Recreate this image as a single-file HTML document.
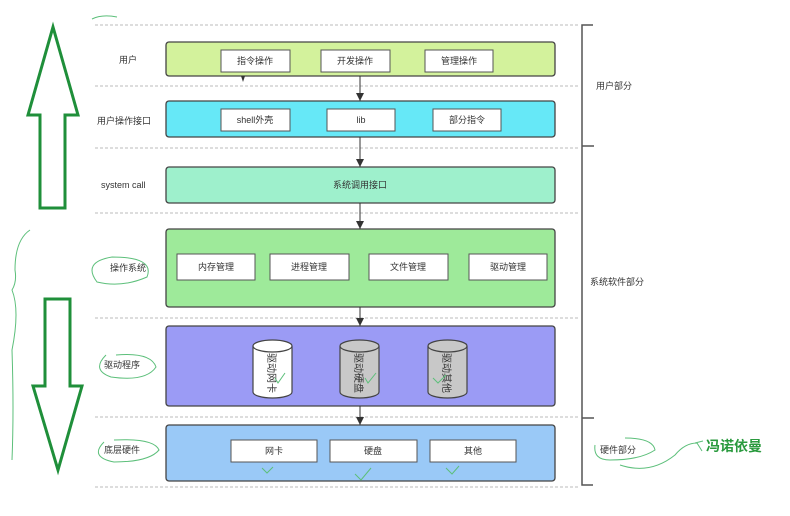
<!DOCTYPE html>
<html><head><meta charset="utf-8"><style>
body{margin:0;background:#fff;}
svg text{font-family:"Liberation Sans","Noto Sans CJK SC",sans-serif;font-size:9px;fill:#333;}
</style></head><body>
<svg width="790" height="511" viewBox="0 0 790 511" xmlns="http://www.w3.org/2000/svg">
<defs><marker id="a" markerWidth="8" markerHeight="8" refX="8" refY="4" orient="auto" markerUnits="userSpaceOnUse"><path d="M0,0 L8,4 L0,8 z" fill="#333"/></marker></defs>
<g stroke="#bbb" stroke-dasharray="3,2" stroke-width="1">
<line x1="95" y1="25" x2="580" y2="25"/><line x1="95" y1="86" x2="580" y2="86"/><line x1="95" y1="148" x2="580" y2="148"/><line x1="95" y1="213" x2="580" y2="213"/><line x1="95" y1="318" x2="580" y2="318"/><line x1="95" y1="417" x2="580" y2="417"/><line x1="95" y1="487" x2="580" y2="487"/>
</g>
<path d="M593,25 H582 V485 H593 M582,146 H594 M582,418 H594" fill="none" stroke="#555" stroke-width="1.5"/>
<g stroke="#444" stroke-width="1.3">
<rect x="166" y="42" width="389" height="34" rx="3" fill="#d3f29c"/>
<rect x="166" y="101" width="389" height="36" rx="3" fill="#66e8f7"/>
<rect x="166" y="167" width="389" height="36" rx="3" fill="#9ef0cc"/>
<rect x="166" y="229" width="389" height="78" rx="3" fill="#9eea9a"/>
<rect x="166" y="326" width="389" height="80" rx="3" fill="#9b9bf5"/>
<rect x="166" y="425" width="389" height="56" rx="3" fill="#9ac9f7"/>
</g>
<g stroke="#555" stroke-width="1" fill="#fff">
<rect x="221" y="50" width="69" height="22"/><rect x="321" y="50" width="69" height="22"/><rect x="425" y="50" width="68" height="22"/>
<rect x="221" y="109" width="69" height="22"/><rect x="327" y="109" width="68" height="22"/><rect x="433" y="109" width="68" height="22"/>
<rect x="177" y="254" width="78" height="26"/><rect x="270" y="254" width="79" height="26"/><rect x="369" y="254" width="79" height="26"/><rect x="469" y="254" width="78" height="26"/>
<rect x="231" y="440" width="86" height="22"/><rect x="330" y="440" width="87" height="22"/><rect x="430" y="440" width="86" height="22"/>
</g>
<g stroke="#333" stroke-width="1" marker-end="url(#a)">
<line x1="360" y1="76" x2="360" y2="101"/><line x1="360" y1="137" x2="360" y2="167"/><line x1="360" y1="203" x2="360" y2="229"/><line x1="360" y1="307" x2="360" y2="326"/><line x1="360" y1="406" x2="360" y2="425"/>
</g>
<path d="M241,76 l2,6 l2,-6z" fill="#333"/>
<g stroke="#444" stroke-width="1.2">
<path d="M253,346 V392 A19.5,6 0 0 0 292,392 V346" fill="#fff"/><ellipse cx="272.5" cy="346" rx="19.5" ry="6" fill="#fff"/>
<path d="M340,346 V392 A19.5,6 0 0 0 379,392 V346" fill="#c8c8c8"/><ellipse cx="359.5" cy="346" rx="19.5" ry="6" fill="#c8c8c8"/>
<path d="M428,346 V392 A19.5,6 0 0 0 467,392 V346" fill="#c8c8c8"/><ellipse cx="447.5" cy="346" rx="19.5" ry="6" fill="#c8c8c8"/>
</g>
<g text-anchor="middle">
<text x="255" y="64">指令操作</text><text x="355" y="64">开发操作</text><text x="459" y="64">管理操作</text>
<text x="255" y="123">shell外壳</text><text x="361" y="123">lib</text><text x="467" y="123">部分指令</text>
<text x="360" y="188">系统调用接口</text>
<text x="216" y="270">内存管理</text><text x="309" y="270">进程管理</text><text x="408" y="270">文件管理</text><text x="508" y="270">驱动管理</text>
<text x="274" y="454">网卡</text><text x="373" y="454">硬盘</text><text x="473" y="454">其他</text>
<text transform="translate(268,373) rotate(90)" style="font-size:10px">驱动网卡</text><text transform="translate(355,373) rotate(90)" style="font-size:10px">驱动硬盘</text><text transform="translate(443,373) rotate(90)" style="font-size:10px">驱动其他</text>
</g>
<text x="119" y="63">用户</text><text x="97" y="124">用户操作接口</text><text x="101" y="188">system call</text>
<text x="110" y="271">操作系统</text><text x="104" y="368">驱动程序</text><text x="104" y="453">底层硬件</text>
<text x="596" y="89">用户部分</text><text x="590" y="285">系统软件部分</text><text x="600" y="453">硬件部分</text>
<text x="706" y="451" style="font-size:14px;font-weight:bold;fill:#2a9a3e">冯诺依曼</text>
<g fill="none" stroke="#1f8f3a" stroke-width="3">
<path d="M53,27 L78,115 L65,115 L65,208 L40,208 L40,115 L28,115 Z"/>
<path d="M45,299 L70,299 L70,386 L82,386 L58,470 L33,386 L45,386 Z"/>
</g>
<g fill="none" stroke="#5cbf7a" stroke-width="1">
<path d="M92,19 q10,-5 25,-2"/><path d="M30,230 q-15,10 -15,40 q2,12 -3,20 q8,20 0,60 q2,60 0,110"/>
<path d="M112,257 q-30,5 -15,25 q25,6 50,-5 q8,-20 -35,-20"/>
<path d="M106,355 q-15,15 5,22 q35,5 45,-10 q-5,-15 -40,-12"/>
<path d="M104,442 q-15,15 10,20 q35,0 45,-12 q-5,-12 -45,-10"/>
<path d="M595,445 q-2,15 15,15 q30,0 45,-10 q-2,-12 -30,-12 M620,465 q30,10 55,-10 q10,-12 22,-12 l5,8 M695,443 l8,-2"/>
<path d="M262,468 l5,5 l6,-6 M355,474 l6,6 l10,-12 M446,468 l6,6 l7,-8 M275,378 l3,5 l7,-10 M365,378 l3,5 l8,-10 M433,378 l5,5 l8,-8"/>
</g>
</svg>
</body></html>
